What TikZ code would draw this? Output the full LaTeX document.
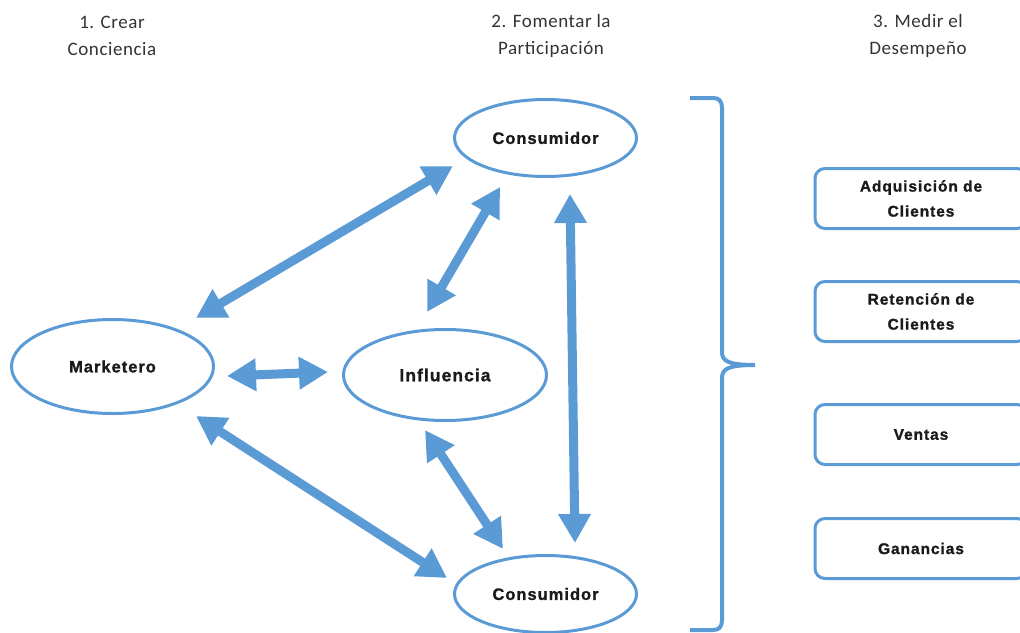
\documentclass[tikz,border=0pt]{standalone}
\usepackage{fontspec}
\setmainfont{Liberation Sans}
\newfontfamily\nodefont[LetterSpace=6,FakeBold=1.2]{Liberation Sans Bold}
\newfontfamily\headfont[LetterSpace=3]{Carlito}
\usetikzlibrary{arrows.meta,shapes.geometric}
\definecolor{mblue}{HTML}{5B9BD5}
\definecolor{mtext}{HTML}{1A1A1A}
\definecolor{mhead}{HTML}{333333}
\tikzset{
  oval/.style={ellipse, draw=mblue, line width=3pt, inner sep=0pt, text=mtext,
    font=\nodefont\fontsize{16.5}{25}\selectfont},
  metric/.style={draw=mblue, line width=3pt, rounded corners=10pt, minimum width=212pt,
    minimum height=60pt, inner sep=0pt, align=center, text=mtext,
    font=\nodefont\fontsize{15.5}{25}\selectfont},
  header/.style={align=center, text=mhead, font=\headfont\fontsize{19}{27}\selectfont},
  dbl/.style={draw=mblue, line width=9pt,
    {Triangle[width=31pt,length=29pt]}-{Triangle[width=31pt,length=29pt]}},
  bracestyle/.style={draw=mblue, line width=4pt}
}
\begin{document}
\begin{tikzpicture}[x=1pt,y=-1pt]
\useasboundingbox (0,0) rectangle (1020,632);
\clip (0,0) rectangle (1020,632);
% headers
\node[header] (h1) at (112,36) {1. Crear\\Conciencia};
\node[header] (h2) at (551,36) {2. Fomentar la\\Participación};
\node[header] (h3) at (918,36) {3. Medir el\\Desempeño};
% ovals
\node[oval, minimum width=202pt, minimum height=94pt] (mk) at (112.5,366.5) {Marketero};
\node[oval, minimum width=182pt, minimum height=77pt] (ct) at (545.5,138) {Consumidor};
\node[oval, minimum width=203pt, minimum height=91pt, font=\nodefont\fontsize{17.5}{25}\selectfont] (inf) at (445,375) {Influencia};
\node[oval, minimum width=182pt, minimum height=77pt] (cb) at (545.5,594) {Consumidor};
% arrow tips
\coordinate (a1s) at (196,318); \coordinate (a1e) at (453,166);
\coordinate (a2s) at (427,312); \coordinate (a2e) at (500,187);
\coordinate (a3s) at (570,194); \coordinate (a3e) at (575,543);
\coordinate (a4s) at (227,376); \coordinate (a4e) at (328,372);
\coordinate (a5s) at (196,416); \coordinate (a5e) at (447,578);
\coordinate (a6s) at (425,430); \coordinate (a6e) at (503,549);
\draw[dbl] (a1s) -- (a1e);
\draw[dbl] (a2s) -- (a2e);
\draw[dbl] (a3s) -- (a3e);
\draw[dbl] (a4s) -- (a4e);
\draw[dbl] (a5s) -- (a5e);
\draw[dbl] (a6s) -- (a6e);
% brace
\draw[bracestyle] (690,98) -- (713,98) .. controls (719,98) and (722,101) .. (722,108)
  -- (722,352) .. controls (722,361) and (728,365) .. (755,365)
  .. controls (728,365) and (722,369) .. (722,378)
  -- (722,620) .. controls (722,627) and (719,630) .. (713,630) -- (690,630);
% metric boxes
\node[metric] (b1) at (921,198.5) {Adquisición de\\Clientes};
\node[metric] (b2) at (921,311.5) {Retención de\\Clientes};
\node[metric] (b3) at (921,434.5) {Ventas};
\node[metric] (b4) at (921,548.5) {Ganancias};
\end{tikzpicture}
\end{document}
